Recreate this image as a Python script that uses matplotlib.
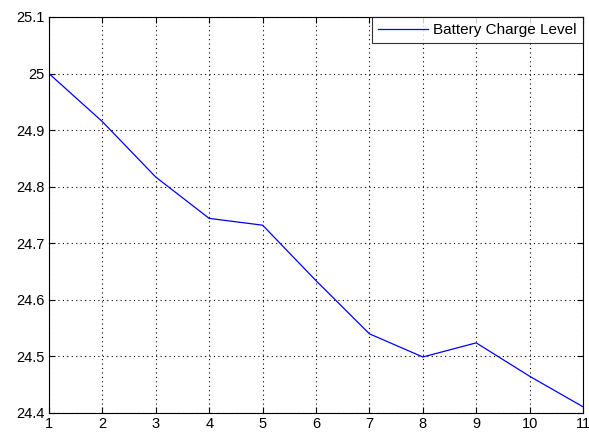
import matplotlib
matplotlib.use("Agg")
import matplotlib.pyplot as plt

x = [1, 2, 3, 4, 5, 6, 7, 8, 9, 10, 11]
charge = [25.0, 24.915, 24.817, 24.744, 24.732, 24.634, 24.540, 24.499, 24.524, 24.465, 24.411]
label = "Battery Charge Level"
yticks = [24.4, 24.5, 24.6, 24.7, 24.8, 24.9, 25.0, 25.1]
yticklabels = ["24.4", "24.5", "24.6", "24.7", "24.8", "24.9", "25", "25.1"]

plt.rcParams['font.family'] = ['Liberation Sans', 'DejaVu Sans']

fig = plt.figure(figsize=(5.89, 4.38), dpi=100)
ax = fig.add_axes([49/589, 1 - 413/438, (583-49)/589, (413-17)/438])
ax.plot(x, charge, color='#0000ff', lw=0.9, label=label)
ax.set_xlim(1, 11)
ax.set_ylim(24.4, 25.1)
ax.set_xticks(x)
ax.set_yticks(yticks)
ax.set_yticklabels(yticklabels)
ax.grid(True, color='black', linestyle=(0, (1, 3)), linewidth=0.8)
ax.tick_params(direction='in', length=4, width=0.8, labelsize=10.5, top=True, right=True,
               color='black', pad=3)
for s in ax.spines.values():
    s.set_linewidth(0.8)
leg = ax.legend(loc='upper right', fontsize=11, frameon=True, fancybox=False,
                borderaxespad=0, handlelength=3.3, borderpad=0.4, handletextpad=0.35)
leg.get_frame().set_edgecolor('black')
leg.get_frame().set_linewidth(0.8)
fig.savefig("out.png", dpi=100)
